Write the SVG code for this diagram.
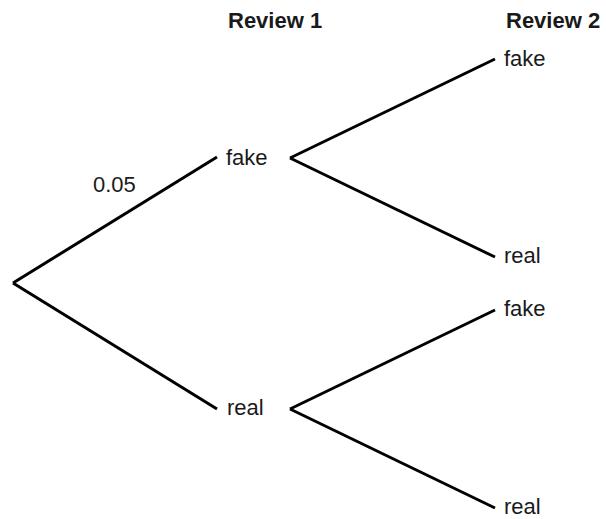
<svg xmlns="http://www.w3.org/2000/svg" width="606" height="519" viewBox="0 0 606 519">
<style>
.t{font-family:"Liberation Sans",Arial,sans-serif;font-size:22px;fill:#1a1a1a}
.h{font-weight:bold;font-size:22px}
.e{stroke:#000;stroke-width:3;fill:none;stroke-linecap:butt}
</style>
<rect width="606" height="519" fill="#fff"/>
<g id="connectors">
<line class="e" x1="13" y1="283" x2="217" y2="157"/>
<line class="e" x1="13" y1="283" x2="217" y2="409"/>
<line class="e" x1="290" y1="158" x2="495" y2="59"/>
<line class="e" x1="290" y1="158" x2="495" y2="257"/>
<line class="e" x1="290" y1="409" x2="495" y2="310"/>
<line class="e" x1="290" y1="409" x2="495" y2="508"/>
</g>
<g id="header1"><text class="t h" x="228" y="28">Review 1</text></g>
<g id="header2"><text class="t h" x="506" y="28">Review 2</text></g>
<g id="r1-fake"><text class="t" x="226" y="165">fake</text></g>
<g id="r1-real"><text class="t" x="227" y="415">real</text></g>
<g id="r2-fake-a"><text class="t" x="504" y="66">fake</text></g>
<g id="r2-real-a"><text class="t" x="504" y="263">real</text></g>
<g id="r2-fake-b"><text class="t" x="504" y="316">fake</text></g>
<g id="r2-real-b"><text class="t" x="504" y="514">real</text></g>
<g id="prob"><text class="t" x="93" y="192">0.05</text></g>
</svg>
